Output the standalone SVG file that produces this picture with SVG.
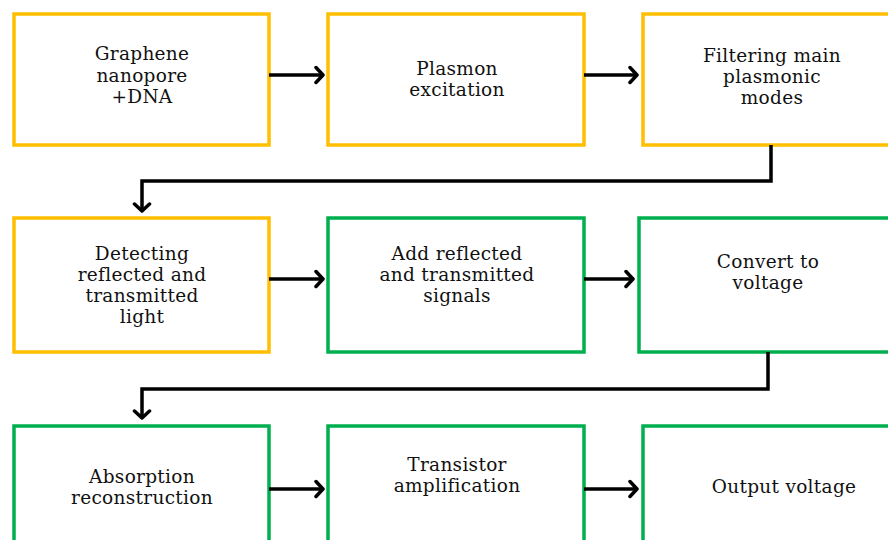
<svg xmlns="http://www.w3.org/2000/svg" width="888" height="540" viewBox="0 0 888 540">
<style>
.box{fill:#fff;stroke-width:3.5}
.y{stroke:#ffbf00}
.g{stroke:#00b04f}
text{font-family:"DejaVu Serif",serif;font-size:18.5px;fill:#111;text-anchor:middle;letter-spacing:0.3px}
.c{fill:none;stroke:#000;stroke-width:3.5;marker-end:url(#ah)}
</style>
<defs>
<marker id="ah" markerUnits="userSpaceOnUse" viewBox="-10 -10 12 20" refX="0" refY="0" markerWidth="12" markerHeight="20" orient="auto">
<path d="M-7,-7.5 L0,0 L-7,7.5" fill="none" stroke="#000" stroke-width="3.5" stroke-linecap="round" stroke-linejoin="round"/>
</marker>
</defs>
<rect width="888" height="540" fill="#fff"/>
<g id="n1"><rect class="box y" x="14" y="14" width="255" height="131"/>
<text x="142" y="60">Graphene</text><text x="142" y="82">nanopore</text><text x="142" y="103">+DNA</text></g>
<g id="n2"><rect class="box y" x="328" y="14" width="256" height="131"/>
<text x="457" y="75">Plasmon</text><text x="457" y="96">excitation</text></g>
<g id="n3"><rect class="box y" x="643" y="14" width="256" height="131"/>
<text x="772" y="62">Filtering main</text><text x="772" y="83">plasmonic</text><text x="772" y="104">modes</text></g>
<g id="n4"><rect class="box y" x="14" y="218" width="255" height="134"/>
<text x="142" y="260">Detecting</text><text x="142" y="281">reflected and</text><text x="142" y="302">transmitted</text><text x="142" y="323">light</text></g>
<g id="n5"><rect class="box g" x="328" y="218" width="256" height="134"/>
<text x="457" y="260">Add reflected</text><text x="457" y="281">and transmitted</text><text x="457" y="302">signals</text></g>
<g id="n6"><rect class="box g" x="639" y="218" width="256" height="134"/>
<text x="768" y="268">Convert to</text><text x="768" y="289">voltage</text></g>
<g id="n7"><rect class="box g" x="14" y="426" width="255" height="130"/>
<text x="142" y="483">Absorption</text><text x="142" y="504">reconstruction</text></g>
<g id="n8"><rect class="box g" x="328" y="426" width="256" height="130"/>
<text x="457" y="471">Transistor</text><text x="457" y="492">amplification</text></g>
<g id="n9"><rect class="box g" x="643" y="426" width="256" height="130"/>
<text x="784" y="493">Output voltage</text></g>
<g id="connectors">
<path class="c" d="M269,75 H323"/>
<path class="c" d="M584,75 H637"/>
<path class="c" d="M771,145 V181 H142 V211"/>
<path class="c" d="M269,279 H323"/>
<path class="c" d="M584,279 H633"/>
<path class="c" d="M768,352 V389 H142 V418"/>
<path class="c" d="M269,489 H323"/>
<path class="c" d="M584,489 H637"/>
</g>
</svg>
